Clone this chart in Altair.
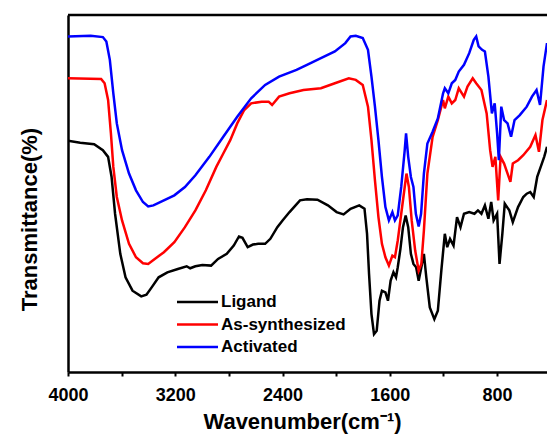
import altair as alt
import pandas as pd

# ---- data (wavenumber in cm^-1, transmittance in a.u.) ----
lig_wn = [4000, 3909, 3805, 3740, 3701, 3675, 3649, 3610, 3571, 3519, 3454, 3415, 3376, 3324, 3259,
          3181, 3115, 3089, 3050, 2998, 2933, 2881, 2816, 2764, 2725, 2699, 2660, 2621, 2582, 2530,
          2491, 2439, 2400, 2348, 2270, 2218, 2140, 2062, 1997, 1945, 1893, 1828, 1789, 1770, 1755,
          1737, 1718, 1698, 1677, 1659, 1633, 1614, 1594, 1573, 1554, 1541, 1521, 1502, 1482, 1463,
          1443, 1424, 1404, 1385, 1365, 1346, 1328, 1302, 1268, 1242, 1216, 1190, 1172, 1151, 1125,
          1099, 1073, 1047, 1008, 969, 943, 917, 891, 865, 844, 826, 800, 782, 761, 743,
          709, 683, 644, 605, 579, 553, 527, 501, 475, 449, 428]
lig_t = [69.1, 68.5, 68.1, 66.3, 64.3, 58.3, 47.3, 35.3, 28.3, 24.3, 22.6, 23.1, 25.3, 28.3, 29.8,
         30.8, 31.6, 31.0, 31.6, 32.0, 31.8, 33.8, 35.3, 37.8, 40.5, 40.1, 37.3, 38.1, 38.3, 38.3,
         39.8, 43.3, 45.3, 47.8, 51.3, 51.6, 51.5, 49.8, 47.8, 47.1, 48.8, 49.8, 48.8, 41.3, 29.3,
         17.3, 11.3, 12.3, 21.3, 24.3, 23.8, 21.3, 27.3, 29.8, 28.3, 31.3, 36.8, 43.3, 46.8, 43.3,
         35.3, 32.3, 31.3, 27.3, 31.3, 35.3, 28.3, 19.3, 15.8, 18.3, 30.3, 41.3, 37.3, 39.8, 37.8,
         46.3, 43.3, 47.3, 47.8, 47.3, 48.3, 47.3, 49.8, 45.8, 50.8, 45.3, 47.3, 32.3, 41.3, 50.3,
         48.3, 44.8, 49.3, 52.3, 53.3, 53.8, 52.3, 58.3, 61.3, 64.3, 67.3]

syn_wn = [4000, 3753, 3727, 3701, 3680, 3662, 3636, 3597, 3545, 3493, 3441, 3402, 3363, 3285, 3207,
          3128, 3050, 2972, 2894, 2842, 2790, 2738, 2686, 2634, 2556, 2504, 2478, 2426, 2348, 2244,
          2114, 2010, 1906, 1854, 1802, 1763, 1737, 1711, 1685, 1659, 1633, 1607, 1581, 1562, 1541,
          1515, 1489, 1476, 1458, 1437, 1411, 1385, 1365, 1346, 1320, 1281, 1242, 1203, 1190, 1164,
          1138, 1112, 1086, 1047, 1021, 982, 956, 917, 878, 852, 834, 813, 792, 774, 748,
          722, 701, 683, 644, 605, 553, 514, 488, 462, 428]
syn_t = [87.8, 87.6, 86.3, 81.3, 71.3, 61.3, 52.3, 45.3, 38.3, 34.3, 32.5, 32.3, 33.5, 35.8, 38.8,
         43.3, 48.3, 54.3, 61.3, 65.3, 69.3, 74.3, 78.3, 80.3, 80.8, 80.8, 79.8, 82.3, 83.3, 84.3,
         84.8, 86.3, 87.8, 87.3, 85.8, 79.3, 69.3, 57.3, 46.3, 38.3, 34.3, 31.8, 34.8, 34.3, 39.3,
         47.3, 55.3, 59.3, 55.3, 45.3, 36.3, 30.3, 32.3, 42.3, 59.3, 70.3, 75.3, 81.3, 78.8, 82.3,
         80.3, 81.3, 84.8, 82.3, 85.3, 87.8, 86.3, 84.3, 77.3, 66.3, 61.3, 64.3, 51.3, 64.3, 62.3,
         59.3, 56.8, 62.3, 63.3, 64.8, 67.3, 70.8, 65.8, 75.3, 81.3]

act_wn = [4000, 3831, 3740, 3714, 3688, 3662, 3636, 3597, 3545, 3493, 3441, 3402, 3363, 3285, 3207,
          3128, 3050, 2946, 2842, 2738, 2634, 2530, 2426, 2296, 2218, 2114, 2010, 1932, 1893, 1854,
          1802, 1763, 1737, 1711, 1685, 1659, 1633, 1607, 1581, 1562, 1541, 1515, 1489, 1479, 1463,
          1443, 1424, 1406, 1385, 1367, 1346, 1320, 1281, 1242, 1203, 1190, 1164, 1138, 1112, 1086,
          1047, 1008, 974, 956, 938, 912, 891, 865, 839, 818, 800, 787, 769, 748, 722,
          696, 670, 631, 579, 540, 506, 480, 454, 428]
act_t = [100.3, 100.5, 100.1, 98.8, 93.3, 83.3, 74.3, 66.3, 59.3, 54.3, 50.8, 49.5, 49.8, 51.3, 52.8,
         55.3, 58.8, 64.3, 70.3, 76.3, 81.8, 85.8, 88.3, 90.3, 91.8, 93.8, 95.8, 98.3, 100.3, 100.5,
         99.8, 96.3, 88.3, 79.3, 69.3, 58.3, 49.3, 45.3, 47.8, 45.3, 46.8, 55.3, 66.3, 71.3, 64.3,
         58.3, 55.3, 47.3, 43.5, 47.3, 59.3, 68.3, 71.8, 75.8, 83.3, 84.8, 83.3, 86.3, 87.3, 89.8,
         91.8, 95.3, 99.3, 100.3, 97.3, 96.3, 95.8, 88.3, 77.3, 80.3, 71.3, 63.3, 79.3, 75.3, 74.3,
         70.3, 75.3, 76.8, 79.3, 82.3, 84.3, 79.8, 91.3, 98.3]

series_names = ["Ligand", "As-synthesized", "Activated"]
series_colors = ["#000000", "#ff0000", "#0000ff"]
x_ticks = [4000, 3600, 3200, 2800, 2400, 2000, 1600, 1200, 800]

frames = []
for name, wn, t in zip(series_names, [lig_wn, syn_wn, act_wn], [lig_t, syn_t, act_t]):
    frames.append(pd.DataFrame({"wn": wn, "t": t, "series": name}))
df = pd.concat(frames, ignore_index=True)

W, H = 479, 357
FONT = "Liberation Sans"

x_enc = alt.X(
    "wn:Q",
    scale=alt.Scale(domain=[428, 4000], reverse=True, nice=False, zero=False),
    axis=alt.Axis(
        values=x_ticks, format="d",
        labelExpr="datum.value % 800 == 0 ? datum.label : ''",
        tickSize=4, tickWidth=2, tickColor="black",
        domainWidth=2.5, domainColor="black",
        labelFont=FONT, labelFontWeight="bold", labelFontSize=18, labelColor="black",
        labelPadding=10, labelFlush=False, grid=False,
        title="Wavenumber(cm⁻¹)", titleFont=FONT, titleFontWeight="bold", titleFontSize=22,
        titleColor="black", titleX=234, titleY=56, titleBaseline="alphabetic", titleAlign="center",
    ),
)
y_enc = alt.Y(
    "t:Q",
    scale=alt.Scale(domain=[0, 106.7], nice=False, zero=False),
    axis=alt.Axis(
        labels=False, ticks=False, grid=False, domainWidth=2.5, domainColor="black",
        title="Transmittance(%)", titleFont=FONT, titleFontWeight="bold", titleFontSize=22,
        titleColor="black", titleX=-39, titleY=204, titleAngle=270,
        titleBaseline="middle", titleAlign="center",
    ),
)

lines = alt.Chart(df).mark_line(strokeWidth=2.5, clip=True).encode(
    x=x_enc, y=y_enc,
    color=alt.Color("series:N", scale=alt.Scale(domain=series_names, range=series_colors), legend=None),
    order=alt.Order("wn:Q"),
)

one = pd.DataFrame({"a": [0]})
top_border = alt.Chart(one).mark_rule(color="black", strokeWidth=2.5).encode(
    x=alt.value(0), x2=alt.value(W), y=alt.value(0)
)

legend_layers = []
row_y = [287, 309.5, 332]
for name, color, ry in zip(series_names, series_colors, row_y):
    legend_layers.append(
        alt.Chart(one).mark_rule(color=color, strokeWidth=2.5).encode(
            x=alt.value(109), x2=alt.value(150), y=alt.value(ry)
        )
    )
    legend_layers.append(
        alt.Chart(one).mark_text(
            text=name, font=FONT, fontWeight="bold", fontSize=17, color="black",
            align="left", baseline="middle",
        ).encode(x=alt.value(153), y=alt.value(ry))
    )

chart = alt.layer(lines, top_border, *legend_layers).properties(
    width=W, height=H,
    autosize=alt.AutoSizeParams(type="none"),
    padding={"left": 68, "top": 15, "right": 0, "bottom": 66},
).configure_view(stroke=None).configure(background="white")

chart.save("out.html", embed_options={"renderer": "svg", "actions": False})
